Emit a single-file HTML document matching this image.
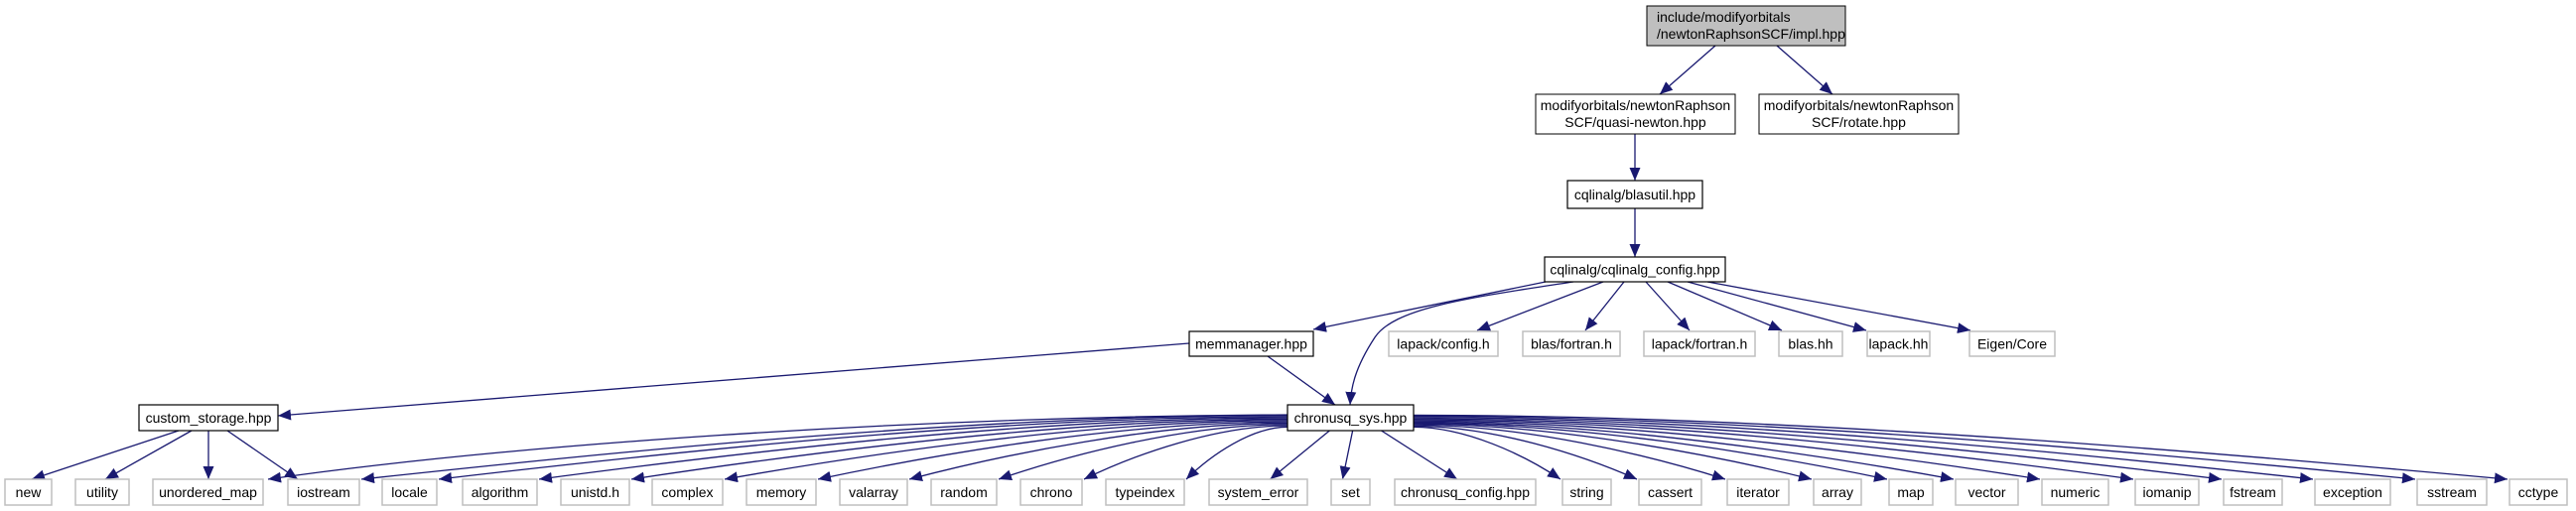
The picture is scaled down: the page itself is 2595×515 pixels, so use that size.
<!DOCTYPE html>
<html><head><meta charset="utf-8"><style>
html,body{margin:0;padding:0;background:#fff;width:2595px;height:515px;overflow:hidden}
svg{display:block}
text{font-family:"Liberation Sans",Arial,sans-serif;font-size:14px;fill:#000}
</style></head><body>
<svg id="s" width="2595" height="515" viewBox="0 0 2595 515" xmlns="http://www.w3.org/2000/svg">
<defs><marker id="a" markerUnits="userSpaceOnUse" markerWidth="16" markerHeight="14" refX="13" refY="5.5" orient="auto"><path d="M0,0 L13,5.5 L0,11 Z" fill="#191970"/></marker></defs>
<g id="edges" fill="none" stroke="#191970" stroke-width="1.3"></g>
<g id="nodes">
<rect x="1659" y="6" width="200" height="40" fill="#bfbfbf" stroke="#000"/>
<text x="1669" y="22">include/modifyorbitals</text><text x="1669" y="39">/newtonRaphsonSCF/impl.hpp</text>
<rect x="1547" y="95" width="201" height="40" fill="#fff" stroke="#000"/>
<text x="1647.5" y="111" text-anchor="middle">modifyorbitals/newtonRaphson</text><text x="1647.5" y="128" text-anchor="middle">SCF/quasi-newton.hpp</text>
<rect x="1772" y="95" width="201" height="40" fill="#fff" stroke="#000"/>
<text x="1872.5" y="111" text-anchor="middle">modifyorbitals/newtonRaphson</text><text x="1872.5" y="128" text-anchor="middle">SCF/rotate.hpp</text>
</g>
</svg>
<script>
var S=document.getElementById('s'),N=document.getElementById('nodes'),E=document.getElementById('edges');
var ns='http://www.w3.org/2000/svg';
function box(x1,x2,y1,y2,label,gray){
 var r=document.createElementNS(ns,'rect');r.setAttribute('x',x1);r.setAttribute('y',y1);r.setAttribute('width',x2-x1);r.setAttribute('height',y2-y1);
 r.setAttribute('fill','#fff');r.setAttribute('stroke',gray?'#bfbfbf':'#000');r.setAttribute('stroke-width',gray?'1.5':'1.2');N.appendChild(r);
 var t=document.createElementNS(ns,'text');t.setAttribute('x',(x1+x2)/2);t.setAttribute('y',(y1+y2)/2+5);t.setAttribute('text-anchor','middle');t.textContent=label;N.appendChild(t);
}
function path(d){var p=document.createElementNS(ns,'path');p.setAttribute('d',d);p.setAttribute('marker-end','url(#a)');E.appendChild(p);}
box(1579,1715,182,210,'cqlinalg/blasutil.hpp');
box(1556,1738,259,284,'cqlinalg/cqlinalg_config.hpp');
box(1198,1323,334,359,'memmanager.hpp');
var mid=[[1399,1509,'lapack/config.h'],[1534,1632,'blas/fortran.h'],[1656,1768,'lapack/fortran.h'],[1792,1856,'blas.hh'],[1881,1944,'lapack.hh'],[1984,2070,'Eigen/Core']];
mid.forEach(function(m){box(m[0],m[1],334,359,m[2],1);});
box(1297,1424,408,434,'chronusq_sys.hpp');
box(140,280,408,434,'custom_storage.hpp');
var bot=[[5,52,'new'],[76,130,'utility'],[154,265,'unordered_map'],[290,362,'iostream'],[385,440,'locale'],[466,541,'algorithm'],[565,634,'unistd.h'],[657,728,'complex'],[752,822,'memory'],[846,914,'valarray'],[938,1004,'random'],[1028,1090,'chrono'],[1114,1193,'typeindex'],[1218,1317,'system_error'],[1341,1380,'set'],[1405,1547,'chronusq_config.hpp'],[1574,1623,'string'],[1651,1714,'cassert'],[1740,1802,'iterator'],[1827,1875,'array'],[1903,1947,'map'],[1970,2033,'vector'],[2057,2124,'numeric'],[2151,2215,'iomanip'],[2240,2299,'fstream'],[2332,2408,'exception'],[2435,2505,'sstream'],[2528,2586,'cctype']];
bot.forEach(function(b){box(b[0],b[1],483,509,b[2],1);});
path('M1728,46 L1672,95');path('M1790,46 L1846,95');
path('M1647,135 L1647,182');path('M1647,210 L1647,259');
path('M1557,284 L1323,332');
path('M1615,284 L1488,333');path('M1636,284 L1597,333');path('M1658,284 L1702,333');
path('M1680,284 L1795,333');path('M1700,284 L1880,333');path('M1720,284 L1985,333');
path('M1585,284 C1480,300 1405,310 1385,340 C1364,372 1361,392 1360,408');
path('M1198,346 L280,419');path('M1277,359 L1345,408');
path('M180,434 L32,483');path('M193,434 L106,483');path('M210,434 L210,483');path('M229,434 L300,483');
var cx=1360;
bot.forEach(function(b,i){
 if(b[2]=='new'||b[2]=='utility')return;
 var tc=(b[0]+b[1])/2;
 if(b[2]=='unordered_map'){path('M1297,418 C900,420 500,450 270,483');return;}
 if(tc>=1230&&tc<=1520){var sx=1330+(tc-1230)*0.25;path('M'+sx+',434 L'+(tc+(tc<cx?12:-8))+',483');return;}
 if(tc<cx){
  var sx=1297,sy=418+Math.min(14,(tc-290)/70);var ex=b[1]+2,ey=483;var dx=sx-ex;
  path('M'+sx+','+sy+' C'+(sx-dx*0.35)+','+sy+' '+(ex+dx*0.25)+','+(ey-25)+' '+ex+','+ey);
 } else {
  var sx=1424,sy=418+Math.min(14,(2590-tc)/80);var ex=b[0]-2,ey=483;var dx=ex-sx;
  path('M'+sx+','+sy+' C'+(sx+dx*0.35)+','+sy+' '+(ex-dx*0.25)+','+(ey-25)+' '+ex+','+ey);
 }
});
</script>
</body></html>
